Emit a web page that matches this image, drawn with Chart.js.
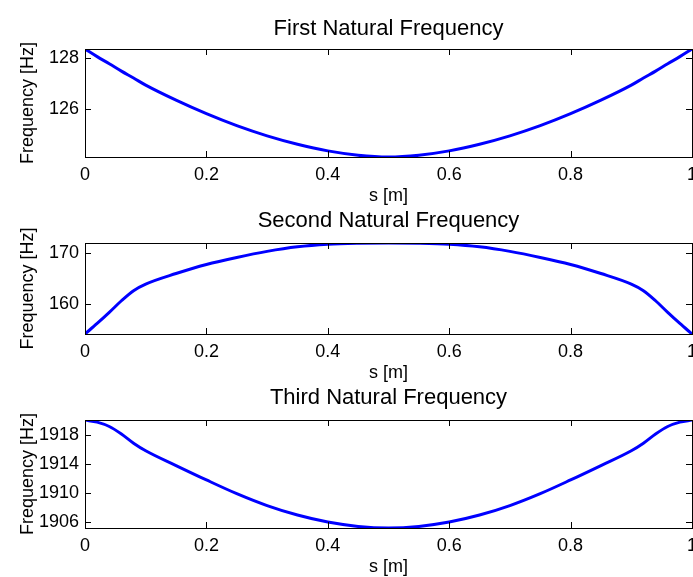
<!DOCTYPE html>
<html>
<head>
<meta charset="utf-8">
<script src="https://cdn.jsdelivr.net/npm/chart.js@4.4.1/dist/chart.umd.min.js"></script>
<style>
  html, body { margin: 0; padding: 0; background: #fff; overflow: hidden; }
  #wrap { position: relative; width: 693px; height: 577px; overflow: hidden; background: #fff; }
  #wrap canvas { position: absolute; left: 0; top: 0; }
</style>
</head>
<body>
<div id="wrap">
  <canvas id="first" width="730" height="600"></canvas>
  <canvas id="second" width="730" height="600"></canvas>
  <canvas id="third" width="730" height="600"></canvas>
</div>
<script>
// positions along the beam [m]
const sPoints = [0, 0.02, 0.04, 0.06, 0.08, 0.1, 0.15, 0.2, 0.25, 0.3, 0.35, 0.4, 0.45, 0.5,
                 0.55, 0.6, 0.65, 0.7, 0.75, 0.8, 0.85, 0.9, 0.92, 0.94, 0.96, 0.98, 1];

// natural frequencies [Hz]
const firstFreq = [128.36, 128.06, 127.78, 127.49, 127.22, 126.94, 126.35, 125.82, 125.35, 124.95,
                   124.62, 124.36, 124.19, 124.12, 124.19, 124.36, 124.62, 124.95, 125.35, 125.82,
                   126.35, 126.94, 127.22, 127.49, 127.78, 128.06, 128.36];
const secondFreq = [154.0, 156.1, 158.3, 160.6, 162.6, 163.9, 166.0, 167.8, 169.2, 170.4,
                    171.3, 171.8, 172.0, 172.06, 172.0, 171.8, 171.3, 170.4, 169.2, 167.8,
                    166.0, 163.9, 162.6, 160.6, 158.3, 156.1, 154.0];
const thirdFreq = [1920.08, 1919.78, 1919.18, 1918.14, 1916.87, 1915.82, 1913.77, 1911.78, 1909.88, 1908.23,
                   1906.92, 1905.95, 1905.35, 1905.13, 1905.35, 1905.95, 1906.92, 1908.23, 1909.88, 1911.78,
                   1913.77, 1915.82, 1916.87, 1918.14, 1919.18, 1919.78, 1920.08];

// axis limits and ticks
const firstLimits = [124.12, 128.36];
const secondLimits = [154.0, 172.06];
const thirdLimits = [1905.13, 1920.08];
const xTicks = [0, 0.2, 0.4, 0.6, 0.8, 1];
const firstTicks = [126, 128];
const secondTicks = [160, 170];
const thirdTicks = [1906, 1910, 1914, 1918];

const FONT = "'Liberation Sans', Arial, Helvetica, sans-serif";

// box with inward tick marks, matlab style
const boxTicks = {
  id: 'boxTicks',
  afterDraw(chart) {
    const { ctx, chartArea: a, scales: { x, y } } = chart;
    const len = 6;
    ctx.save();
    ctx.strokeStyle = '#000';
    ctx.lineWidth = 1;
    ctx.beginPath();
    x.ticks.forEach(t => {
      const px = Math.round(x.getPixelForValue(t.value)) + 0.5;
      ctx.moveTo(px, a.bottom); ctx.lineTo(px, a.bottom - len);
      ctx.moveTo(px, a.top); ctx.lineTo(px, a.top + len);
    });
    y.ticks.forEach(t => {
      const py = Math.round(y.getPixelForValue(t.value)) + 0.5;
      ctx.moveTo(a.left, py); ctx.lineTo(a.left + len, py);
      ctx.moveTo(a.right, py); ctx.lineTo(a.right - len, py);
    });
    ctx.stroke();
    ctx.strokeRect(a.left + 0.5, a.top + 0.5, a.right - a.left, a.bottom - a.top);
    ctx.restore();
  }
};

function makePlot(id, title, series, limits, yTicks, g) {
  const canvasH = 600;
  const axisBottom = g.sLabel + 10.8;
  new Chart(document.getElementById(id), {
    type: 'line',
    data: {
      datasets: [{
        data: sPoints.map((s, i) => ({ x: s, y: series[i] })),
        borderColor: '#0000ff',
        borderWidth: 3,
        pointRadius: 0,
        cubicInterpolationMode: 'monotone',
        fill: false
      }]
    },
    plugins: [boxTicks],
    options: {
      responsive: false,
      animation: false,
      devicePixelRatio: 1,
      events: [],
      layout: { padding: { left: 0, right: 730 - 692, top: 0, bottom: canvasH - axisBottom } },
      plugins: {
        legend: { display: false },
        tooltip: { enabled: false },
        title: {
          display: true,
          text: title,
          fullSize: false,
          color: '#000',
          font: { family: FONT, size: 22, weight: 'normal' },
          padding: { top: g.title - 13.2, bottom: g.top - g.title - 13.2 }
        }
      },
      scales: {
        x: {
          type: 'linear',
          min: 0,
          max: 1,
          grid: { display: false, drawTicks: false },
          border: { display: false },
          afterBuildTicks: scale => { scale.ticks = xTicks.map(v => ({ value: v })); },
          afterFit: scale => { scale.height = axisBottom - g.bottom; },
          ticks: {
            autoSkip: false,
            maxRotation: 0,
            padding: 7,
            color: '#000',
            font: { family: FONT, size: 18 },
            callback: v => String(v)
          },
          title: {
            display: true,
            text: 's [m]',
            color: '#000',
            font: { family: FONT, size: 18 },
            padding: 0
          }
        },
        y: {
          min: limits[0],
          max: limits[1],
          grid: { display: false, drawTicks: false },
          border: { display: false },
          afterBuildTicks: scale => { scale.ticks = yTicks.map(v => ({ value: v })); },
          afterFit: scale => { scale.width = 85; },
          ticks: {
            padding: 6,
            color: '#000',
            font: { family: FONT, size: 18 },
            callback: v => String(v)
          },
          title: {
            display: true,
            text: 'Frequency [Hz]',
            color: '#000',
            font: { family: FONT, size: 18 },
            padding: { top: 17.5, bottom: 0 }
          }
        }
      }
    }
  });
}

makePlot('first', 'First Natural Frequency', firstFreq, firstLimits, firstTicks,
  { title: 29.2, top: 49, bottom: 157, sLabel: 196.2 });
makePlot('second', 'Second Natural Frequency', secondFreq, secondLimits, secondTicks,
  { title: 220.5, top: 243, bottom: 334, sLabel: 373.2 });
makePlot('third', 'Third Natural Frequency', thirdFreq, thirdLimits, thirdTicks,
  { title: 397.5, top: 420, bottom: 528, sLabel: 567.2 });
</script>
</body>
</html>
